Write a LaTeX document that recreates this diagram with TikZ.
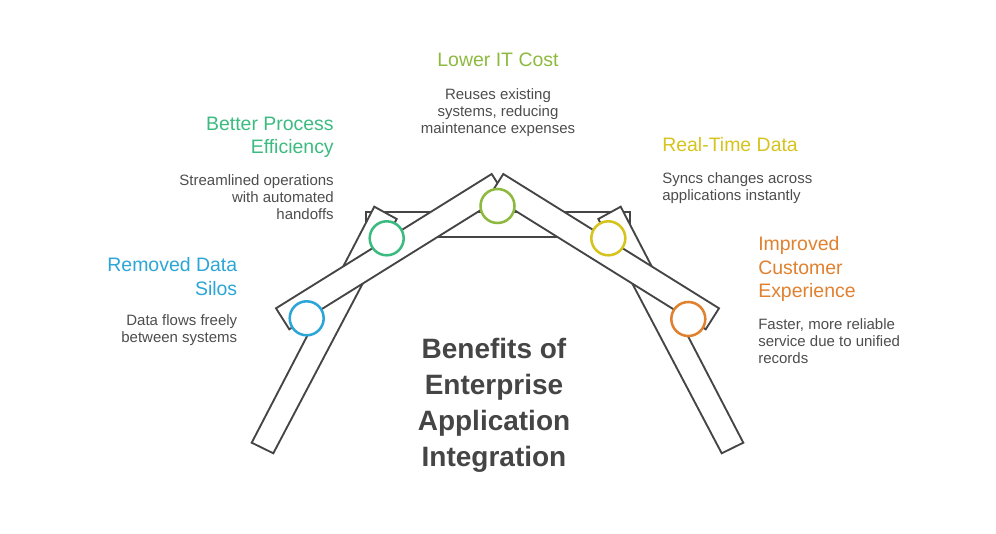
\documentclass[tikz,border=0pt]{standalone}
\usepackage{fontspec}
\setmainfont{Liberation Sans}
\usepackage{tikz}
\usetikzlibrary{positioning}
\definecolor{SiloBlue}{HTML}{2BA6D6}
\definecolor{FlowGreen}{HTML}{3CBB80}
\definecolor{CostLime}{HTML}{8DBA3E}
\definecolor{SyncYellow}{HTML}{D6C31C}
\definecolor{CareOrange}{HTML}{E0812F}
\definecolor{Ink}{HTML}{4D4D4D}
\definecolor{Graphite}{HTML}{454545}

\begin{document}
\begin{tikzpicture}[
  x=0.75pt,
  y=-0.75pt,
  beam/.style={
    draw=Graphite,
    fill=white,
    line width=1.4pt,
    line join=miter
  },
  joint/.style={
    circle,
    fill=white,
    line width=1.9pt,
    minimum size=25.5pt,
    inner sep=0pt
  },
  heading/.style={
    inner sep=0pt,
    font=\fontsize{14.6}{17.5}\selectfont
  },
  blurb/.style={
    inner sep=0pt,
    text=Ink,
    font=\fontsize{11.25}{12.75}\selectfont
  }
]
\useasboundingbox (0,0) rectangle (996,534);

% frame: cross bar, legs, rafters
\draw[beam] (365.7,212.3) rectangle (630,236.7);
\draw[beam] (251.7,442.7) -- (273.3,453.3) -- (396.7,219) -- (374.3,206.7) -- cycle;
\draw[beam] (743.3,442.7) -- (721.7,453.3) -- (598.3,219) -- (620.7,206.7) -- cycle;
\draw[beam] (276,308.3) -- (289.3,329.3) -- (505,195) -- (491.7,174) -- cycle;
\draw[beam] (719,308.3) -- (705.7,329.3) -- (490,195) -- (503.3,174) -- cycle;

% joints
\node[joint,draw=SiloBlue] (silos) at (306.7,318.3) {};
\node[joint,draw=FlowGreen] (process) at (386.7,238.3) {};
\node[joint,draw=CostLime] (cost) at (497.5,206) {};
\node[joint,draw=SyncYellow] (sync) at (608.3,238.3) {};
\node[joint,draw=CareOrange] (customer) at (688.3,319) {};

% labels
\node[heading,text=CostLime,anchor=base] (costhead) at (498,66.5) {Lower IT Cost};
\node[blurb,align=center,anchor=north] (costtext) at (498,88.4)
  {Reuses existing\\systems, reducing\\maintenance expenses};

\node[heading,text=FlowGreen,align=right,anchor=north east] (processhead) at (334,116.8)
  {Better Process\\Efficiency};
\node[blurb,align=right,anchor=north east] (processtext) at (334,174.4)
  {Streamlined operations\\with automated\\handoffs};

\node[heading,text=SiloBlue,align=right,anchor=north east] (siloshead) at (237.5,257.6)
  {Removed Data\\Silos};
\node[blurb,align=right,anchor=north east] (silostext) at (237.5,314.4)
  {Data flows freely\\between systems};

\node[heading,text=SyncYellow,anchor=base west] (synchead) at (662,151.5)
  {Real-Time Data};
\node[blurb,align=left,anchor=north west] (synctext) at (662,172)
  {Syncs changes across\\applications instantly};

\node[heading,text=CareOrange,align=left,anchor=north west] (customerhead) at (758,236.6)
  {Improved\\Customer\\Experience};
\node[blurb,align=left,anchor=north west] (customertext) at (758,318)
  {Faster, more reliable\\service due to unified\\records};

\node[
  inner sep=0pt,
  align=center,
  anchor=north,
  text=Graphite,
  font=\fontsize{21}{27}\selectfont\bfseries
] (title) at (494,337.8)
  {Benefits of\\Enterprise\\Application\\Integration};
\end{tikzpicture}
\end{document}
